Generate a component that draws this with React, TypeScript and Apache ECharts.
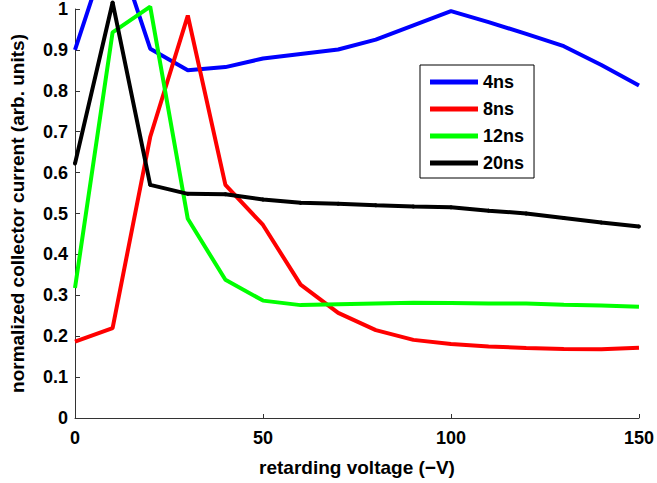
import React, { useEffect, useRef } from "react";
import * as echarts from "echarts";

const voltages = [0, 10, 20, 30, 40, 50, 60, 70, 80, 90, 100, 110, 120, 130, 140, 150];
const ns4 = [0.9, 1.18, 0.903, 0.85, 0.858, 0.879, 0.89, 0.901, 0.925, 0.96, 0.995, 0.968, 0.939, 0.909, 0.863, 0.813];
const ns8 = [0.187, 0.22, 0.687, 0.984, 0.57, 0.472, 0.326, 0.257, 0.215, 0.191, 0.181, 0.175, 0.171, 0.169, 0.168, 0.172];
const ns12 = [0.318, 0.943, 1.006, 0.487, 0.338, 0.287, 0.276, 0.278, 0.28, 0.282, 0.281, 0.28, 0.28, 0.277, 0.275, 0.272];
const ns20 = [0.622, 1.016, 0.57, 0.548, 0.547, 0.534, 0.526, 0.524, 0.52, 0.517, 0.515, 0.507, 0.5, 0.489, 0.478, 0.468];
const seriesNames = ["4ns", "8ns", "12ns", "20ns"];
const seriesColors = ["#0000ff", "#ff0000", "#00ff00", "#000000"];

const FONT = "'Liberation Sans', Arial, Helvetica, sans-serif";

export default function App() {
  const ref = useRef<HTMLDivElement>(null);
  useEffect(() => {
    if (!ref.current) return;
    const chart = echarts.init(ref.current, null, { renderer: "svg" });
    const all = [ns4, ns8, ns12, ns20];
    chart.setOption({
      animation: false,
      backgroundColor: "#ffffff",
      textStyle: { fontFamily: FONT },
      grid: { left: 75, right: 16, top: 8, bottom: 65, containLabel: false },
      legend: {
        orient: "vertical",
        left: 420,
        top: 65,
        padding: [8, 10, 6, 10],
        itemGap: 9,
        itemWidth: 48,
        itemHeight: 5,
        icon: "rect",
        borderColor: "#000",
        borderWidth: 1,
        borderRadius: 0,
        backgroundColor: "#fff",
        data: seriesNames,
        textStyle: { fontFamily: FONT, fontWeight: "bold", fontSize: 18, color: "#000", lineHeight: 18 },
      },
      xAxis: {
        type: "value",
        min: 0,
        max: 150,
        interval: 50,
        name: "retarding voltage (\u2212V)",
        nameLocation: "middle",
        nameGap: 40,
        nameTextStyle: { fontFamily: FONT, fontWeight: "bold", fontSize: 19, color: "#000" },
        axisLine: { lineStyle: { color: "#333", width: 1 } },
        axisTick: { inside: true, length: 4, lineStyle: { color: "#333" } },
        axisLabel: { margin: 11, fontFamily: FONT, fontWeight: "bold", fontSize: 18, color: "#000" },
        splitLine: { show: false },
      },
      yAxis: {
        type: "value",
        min: 0,
        max: 1,
        interval: 0.1,
        name: "normalized collector current (arb. units)",
        nameLocation: "middle",
        nameGap: 48,
        nameTextStyle: { fontFamily: FONT, fontWeight: "bold", fontSize: 19, color: "#000" },
        axisLine: { show: true, lineStyle: { color: "#333", width: 1 } },
        axisTick: { show: true, inside: true, length: 5, lineStyle: { color: "#333" } },
        axisLabel: { margin: 7, fontFamily: FONT, fontWeight: "bold", fontSize: 18, color: "#000" },
        splitLine: { show: false },
      },
      series: seriesNames.map((name, i) => ({
        name,
        type: "line",
        clip: false,
        data: voltages.map((v, j) => [v, all[i][j]]),
        color: seriesColors[i],
        lineStyle: { color: seriesColors[i], width: 4 },
        itemStyle: { color: seriesColors[i] },
        showSymbol: i === 3,
        symbol: "circle",
        symbolSize: 4,
        z: 2 + i,
      })),
    });
    return () => chart.dispose();
  }, []);
  return (
    <div
      ref={ref}
      style={{ position: "fixed", left: 0, top: 0, width: 657, height: 483 }}
    />
  );
}
